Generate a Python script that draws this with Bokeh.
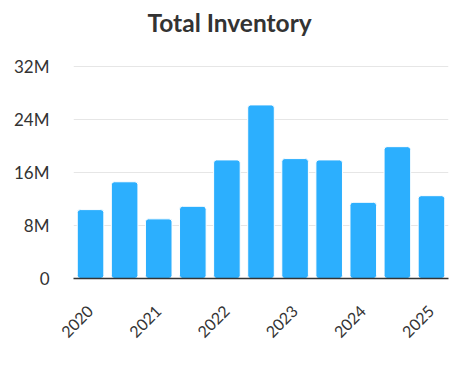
from bokeh.plotting import figure
from bokeh.models import ColumnDataSource, FixedTicker, Range1d, Title
from bokeh.embed import file_html
from bokeh.resources import INLINE
import math

# Data (half-year periods, labelled every other bar by year)
periods = list(range(11))
inventory = [10.4e6, 14.6e6, 9.0e6, 10.9e6, 17.9e6, 26.2e6, 18.1e6, 17.9e6, 11.5e6, 19.9e6, 12.5e6]
year_tick_positions = [0, 2, 4, 6, 8, 10]
year_labels = ["2020", "2021", "2022", "2023", "2024", "2025"]
y_ticks = [0, 8e6, 16e6, 24e6, 32e6]
y_tick_labels = ["0", "8M", "16M", "24M", "32M"]
chart_title = "Total Inventory"

src = ColumnDataSource(dict(x=periods, top=inventory))

p = figure(width=461, height=370, output_backend="svg", toolbar_location=None,
           x_range=Range1d(-0.5, 10.5), y_range=Range1d(0, 32.15e6),
           title=chart_title)

p.vbar(x="x", top="top", bottom=0, width=0.78, source=src,
       fill_color="#2caffe", line_color="white", line_width=1, border_radius=3)

p.min_border_left = 73
p.min_border_right = 13
p.min_border_top = 65
p.min_border_bottom = 92
p.outline_line_color = None
p.background_fill_color = "white"
p.border_fill_color = "white"

# empty spacer between the title and the plot frame
spacer = Title(text=" ", text_font="Lato", text_font_size="21px", standoff=0)
p.add_layout(spacer, "above")

p.title.align = "left"
p.title.vertical_align = "top"
p.title.offset = 74
p.title.standoff = 0
p.title.text_font = "Lato"
p.title.text_font_size = "24.5px"
p.title.text_font_style = "bold"
p.title.text_color = "#333333"

p.xgrid.visible = False
p.ygrid.grid_line_color = "#e6e6e6"
p.ygrid.grid_line_width = 1

xa = p.xaxis[0]
xa.ticker = FixedTicker(ticks=year_tick_positions)
xa.major_label_overrides = {pos: lab for pos, lab in zip(year_tick_positions, year_labels)}
xa.major_label_orientation = math.pi / 4
xa.major_tick_line_color = None
xa.minor_tick_line_color = None
xa.axis_line_color = "#333333"
xa.axis_line_width = 1.5
xa.major_label_text_font = "Lato"
xa.major_label_text_font_size = "16px"
xa.major_label_text_color = "#333333"
xa.major_label_standoff = 24

ya = p.yaxis[0]
ya.ticker = FixedTicker(ticks=y_ticks)
ya.major_label_overrides = {t: lab for t, lab in zip(y_ticks, y_tick_labels)}
ya.axis_line_color = None
ya.major_tick_line_color = None
ya.minor_tick_line_color = None
ya.major_label_text_font = "Lato"
ya.major_label_text_font_size = "17px"
ya.major_label_text_color = "#333333"
ya.major_label_standoff = 18

open("out.html", "w").write(file_html(p, INLINE))
